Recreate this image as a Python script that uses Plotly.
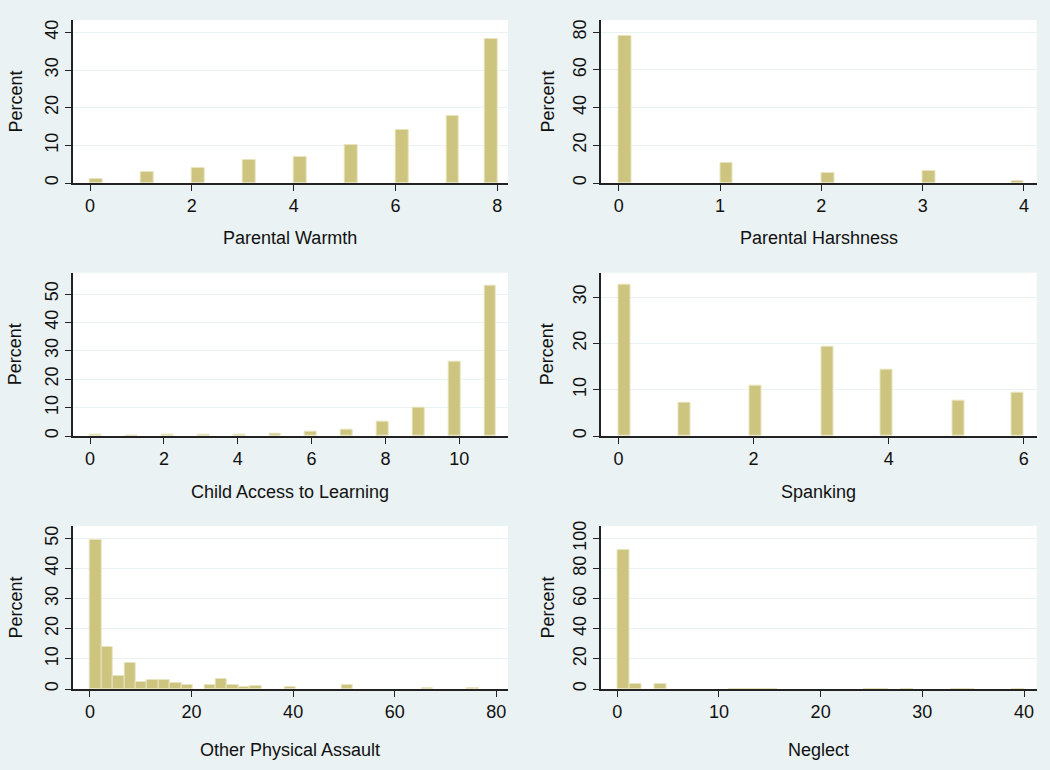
import math
import plotly.graph_objects as go
from plotly.subplots import make_subplots

# ---------------- data ----------------
warmth_vals = [0, 1, 2, 3, 4, 5, 6, 7, 8]
warmth_pct = [1.1, 2.9, 3.9, 6.2, 7.0, 10.1, 14.2, 17.7, 38.2]

harsh_vals = [0, 1, 2, 3, 4]
harsh_pct = [78.0, 10.4, 5.5, 6.2, 0.9]

access_vals = [0, 1, 2, 3, 4, 5, 6, 7, 8, 9, 10, 11]
access_pct = [0.3, 0.1, 0.3, 0.6, 0.6, 0.9, 1.5, 2.2, 5.2, 9.8, 26.2, 52.8]

spank_vals = [0, 1, 2, 3, 4, 5, 6]
spank_pct = [32.7, 7.1, 10.8, 19.2, 14.3, 7.6, 9.4]

assault_vals = [0, 3, 5, 7, 9, 12, 14, 16, 18, 23, 25, 27, 30, 32, 39, 50, 66, 75]
assault_pct = [49.6, 14.0, 4.4, 8.7, 2.3, 2.9, 3.1, 2.0, 1.4, 1.4, 3.4, 1.4, 0.8,
               0.9, 0.8, 1.2, 0.2, 0.2]

neglect_vals = [0, 2, 4, 12, 13, 14, 15, 25, 26, 29, 33, 34, 40]
neglect_pct = [92.3, 3.4, 3.0, 0.15, 0.15, 0.15, 0.15, 0.15, 0.15, 0.1, 0.15, 0.1, 0.15]

titles = ["Parental Warmth", "Parental Harshness", "Child Access to Learning",
          "Spanking", "Other Physical Assault", "Neglect"]

# ---------------- style / layout ----------------
BG = "#EAF2F3"
BAR = "rgb(205,196,127)"
BAR_EDGE = "rgb(232,228,192)"
FONT = "Liberation Sans, Arial, sans-serif"
TXT = "#111111"
W, H = 1050, 770

# histogram binning parameters (lo, hi, nbins) per panel
panels = [
    dict(vals=warmth_vals, pct=warmth_pct, bins=(0, 8, 32), xr=[-0.34, 8.21], yr=[0, 43.3],
         xt=[0, 2, 4, 6, 8], yt=[0, 10, 20, 30, 40]),
    dict(vals=harsh_vals, pct=harsh_pct, bins=(0, 4, 32), xr=[-0.18, 4.126], yr=[0, 86.5],
         xt=[0, 1, 2, 3, 4], yt=[0, 20, 40, 60, 80]),
    dict(vals=access_vals, pct=access_pct, bins=(0, 11, 34), xr=[-0.47, 11.32], yr=[0, 57.5],
         xt=[0, 2, 4, 6, 8, 10], yt=[0, 10, 20, 30, 40, 50]),
    dict(vals=spank_vals, pct=spank_pct, bins=(0, 6, 34), xr=[-0.266, 6.19], yr=[0, 35.3],
         xt=[0, 2, 4, 6], yt=[0, 10, 20, 30]),
    dict(vals=assault_vals, pct=assault_pct, bins=(0, 78.75, 35), xr=[-3.4, 82.3], yr=[0, 54.1],
         xt=[0, 20, 40, 60, 80], yt=[0, 10, 20, 30, 40, 50]),
    dict(vals=neglect_vals, pct=neglect_pct, bins=(0, 40, 33), xr=[-1.64, 41.24], yr=[0, 108.2],
         xt=[0, 10, 20, 30, 40], yt=[0, 20, 40, 60, 80, 100]),
]

# pixel geometry of plot regions
col_x = [(72.7, 508.0), (600.5, 1036.7)]
row_y = [(20.0, 183.0), (272.7, 436.0), (526.0, 689.0)]
xtitle_y = [238.0, 492.0, 750.0]
ytitle_x = [15.0, 547.0]


def hist_centers(vals, lo, hi, nbins):
    w = (hi - lo) / nbins
    cs = []
    for v in vals:
        idx = min(int(math.floor((v - lo) / w + 1e-9)), nbins - 1)
        cs.append(lo + (idx + 0.5) * w)
    return cs, w


fig = make_subplots(rows=3, cols=2)
annotations = []
for i, p in enumerate(panels):
    r, c = i // 2, i % 2
    lo, hi, nb = p["bins"]
    centers, w = hist_centers(p["vals"], lo, hi, nb)
    fig.add_trace(go.Bar(x=centers, y=p["pct"], width=w,
                         marker=dict(color=BAR, line=dict(color=BAR_EDGE, width=1)),
                         showlegend=False, hoverinfo="skip"),
                  row=r + 1, col=c + 1)
    x0, x1 = col_x[c]
    y0, y1 = row_y[r]
    axn = "" if i == 0 else str(i + 1)
    fig.layout["xaxis" + axn].update(
        domain=[x0 / W, x1 / W], range=p["xr"], tickvals=p["xt"],
        showgrid=False, zeroline=False, showline=True, linecolor="#222", linewidth=1.5,
        ticks="outside", ticklen=6, tickwidth=1.3, tickcolor="#222",
        tickfont=dict(family=FONT, size=18, color=TXT), automargin=False)
    fig.layout["yaxis" + axn].update(
        domain=[1 - y1 / H, 1 - y0 / H], range=p["yr"], tickvals=p["yt"],
        showgrid=True, gridcolor=BG, gridwidth=1.2, zeroline=False,
        showline=True, linecolor="#222", linewidth=1.5,
        ticks="outside", ticklen=6, tickwidth=1.3, tickcolor="#222", tickangle=-90,
        tickfont=dict(family=FONT, size=18, color=TXT), automargin=False)
    annotations.append(dict(text=titles[i], xref="paper", yref="paper",
                            x=(x0 + x1) / 2 / W, y=1 - xtitle_y[r] / H,
                            xanchor="center", yanchor="middle", showarrow=False,
                            font=dict(family=FONT, size=18, color=TXT)))
    annotations.append(dict(text="Percent", xref="paper", yref="paper",
                            x=ytitle_x[c] / W, y=1 - (y0 + y1) / 2 / H, textangle=-90,
                            xanchor="center", yanchor="middle", showarrow=False,
                            font=dict(family=FONT, size=18, color=TXT)))

fig.update_layout(width=W, height=H, margin=dict(l=0, r=0, t=0, b=0),
                  paper_bgcolor=BG, plot_bgcolor="white", bargap=0,
                  annotations=annotations)
fig.write_html("out.html",
               config={"displayModeBar": False},
               post_script="document.body.style.margin='0px';"
                           "document.body.style.background='" + BG + "';")
